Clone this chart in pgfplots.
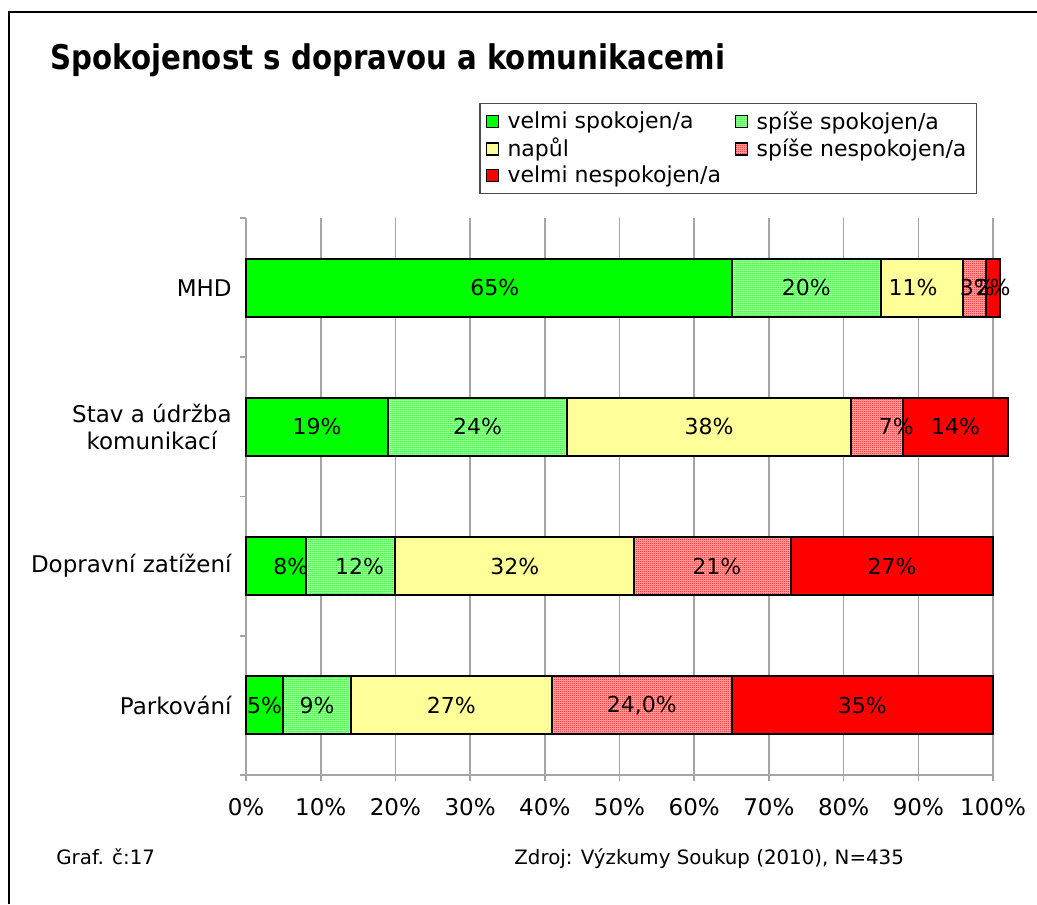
\documentclass[border=0pt]{standalone}
\usepackage{fontspec}
\setmainfont{DejaVu Sans}
\newfontfamily\titlefont[FakeStretch=0.86]{DejaVu Sans}
\usepackage{pgfplots}
\pgfplotsset{compat=1.18}
\usepackage{pgfplotstable}
\usetikzlibrary{patterns}

\definecolor{vgreen}{RGB}{0,255,0}
\definecolor{vyellow}{RGB}{255,255,153}
\definecolor{vred}{RGB}{255,0,0}
\definecolor{gridgray}{RGB}{165,165,165}

\pgfdeclarepatternformonly{checker}{\pgfqpoint{0pt}{0pt}}{\pgfqpoint{1pt}{1pt}}{\pgfqpoint{1pt}{1pt}}{
  \pgfpathrectangle{\pgfqpoint{0pt}{0pt}}{\pgfqpoint{0.5pt}{0.5pt}}
  \pgfpathrectangle{\pgfqpoint{0.5pt}{0.5pt}}{\pgfqpoint{0.5pt}{0.5pt}}
  \pgfusepath{fill}
}

% y: 0 = Parkovani ... 3 = MHD; l* = printed labels, d* = label nudge (pt)
\pgfplotstableread{
y v1 v2 v3 v4 v5 l1 l2 l3 l4 l5 d1 d2 d3 d4 d5
0 5 9 27 24 35 5 9 27 24,0 35 0 0 0 0 0
1 8 12 32 21 27 8 12 32 21 27 7.5 4.5 0 2 0
2 19 24 38 7 14 19 24 38 7 14 0 0 0 9.5 0
3 65 20 11 3 2 65 20 11 3 2 3 0 -4.5 1.5 0
}\datatable

\pgfplotsset{
  myleg/.style={legend image code/.code={\draw[##1,line width=0.6pt] (0pt,-3pt) rectangle (6pt,3pt); \path (8pt,0pt);}},
}

\begin{document}
\begin{tikzpicture}
\useasboundingbox (0,0) rectangle (518.5pt,452pt);
\draw[line width=1pt] (4.5pt,0pt) -- (4.5pt,446pt) -- (518.5pt,446pt);
\node[anchor=base west, inner sep=0pt, font=\titlefont\bfseries\fontsize{17}{20}\selectfont] at (25pt,417pt) {Spokojenost s dopravou a komunikacemi};

\begin{axis}[
    at={(123pt,64.5pt)}, anchor=south west,
    scale only axis,
    width=373.5pt, height=278.5pt,
    xbar stacked,
    bar width=29pt,
    xmin=0, xmax=100,
    ymin=-0.5, ymax=3.5,
    clip=false,
    axis lines*=left,
    axis line style={gridgray, line width=0.8pt},
    xtick={0,10,...,100},
    xticklabel={\pgfmathprintnumber{\tick}\%},
    /pgf/number format/assume math mode=true,
    xmajorgrids,
    grid style={gridgray, line width=0.8pt},
    tick style={gridgray, line width=0.8pt},
    tick align=outside,
    major tick length=3pt,
    ytick={-0.5,0.5,1.5,2.5,3.5},
    yticklabels={},
    extra y ticks={0,1,2,3},
    extra y tick labels={Parkování,Dopravní zatížení,{Stav a údržba\\komunikací},MHD},
    extra y tick style={major tick length=0pt, grid=none,
        yticklabel style={align=center, inner sep=0pt, xshift=-7pt}},
    ticklabel style={font=\fontsize{11.5}{13.5}\selectfont},
    xticklabel style={yshift=-5pt},
    point meta=explicit symbolic,
    nodes near coords={\pgfplotspointmeta\%},
    every node near coord/.append style={anchor=center, xshift=\dx pt,
        font=\fontsize{11}{13}\selectfont, text=black},
    legend columns=2,
    legend cell align=left,
    legend style={at={(1,1.2065)}, anchor=north east, xshift=-8pt,
        draw=black!70, line width=0.6pt, font=\fontsize{11}{13}\selectfont,
        row sep=-1pt,
        /tikz/every even column/.append style={column sep=5pt}},
]
\addplot[myleg, fill=vgreen, draw=black, line width=1pt,
    visualization depends on={\thisrow{d1} \as \dx}]
    table[x=v1, y=y, meta=l1] {\datatable};
\addplot[myleg, fill=vgreen!30!white, postaction={pattern=checker, pattern color=vgreen}, draw=black, line width=1pt,
    visualization depends on={\thisrow{d2} \as \dx}]
    table[x=v2, y=y, meta=l2] {\datatable};
\addplot[myleg, fill=vyellow, draw=black, line width=1pt,
    visualization depends on={\thisrow{d3} \as \dx}]
    table[x=v3, y=y, meta=l3] {\datatable};
\addplot[myleg, fill=vred!30!white, postaction={pattern=checker, pattern color=vred}, draw=black, line width=1pt,
    visualization depends on={\thisrow{d4} \as \dx}]
    table[x=v4, y=y, meta=l4] {\datatable};
\addplot[myleg, fill=vred, draw=black, line width=1pt,
    visualization depends on={\thisrow{d5} \as \dx}]
    table[x=v5, y=y, meta=l5] {\datatable};
\legend{velmi spokojen/a, spíše spokojen/a, napůl, spíše nespokojen/a, velmi nespokojen/a}
\end{axis}

\node[anchor=base west, inner sep=0pt, font=\fontsize{9.9}{11}\selectfont] at (28pt,20pt) {Graf. č:17};
\node[anchor=base west, inner sep=0pt, font=\fontsize{9.9}{11}\selectfont] at (257pt,20pt) {Zdroj: Výzkumy Soukup (2010), N=435};
\end{tikzpicture}
\end{document}
